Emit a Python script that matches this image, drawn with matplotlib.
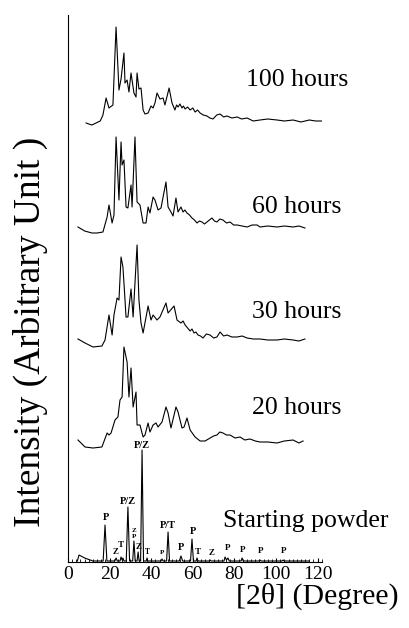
import matplotlib.pyplot as plt
from matplotlib.ticker import MultipleLocator

plt.rcParams['font.family'] = ['Liberation Serif', 'DejaVu Serif']

# XRD patterns (2theta in degrees, intensity in arbitrary stacked units)
tt_100h = [8.7, 10.0, 11.5, 13.5, 15.5, 16.8, 18.3, 19.7, 21.6, 23.1, 24.5, 25.5, 26.9, 27.4,
           28.4, 29.3, 30.3, 31.7, 32.7, 33.2, 34.1, 35.1, 36.1, 37.0, 38.5, 39.9, 40.9, 41.8,
           42.8, 44.2, 45.7, 46.6, 48.6, 50.0, 51.4, 52.2, 52.9, 53.8, 54.8, 55.5, 56.3, 57.5,
           58.7, 60.0, 61.1, 62.3, 63.5, 65.0, 66.8, 68.2, 69.7, 71.5, 73.1, 74.8, 76.4, 78.8,
           81.3, 83.5, 86.1, 89.0, 92.3, 96.0, 100.5, 104.0, 108.2, 112.0, 116.0, 119.0, 122.1]
int_100h = [439, 438, 437, 439, 441, 447, 464, 454, 457, 535, 472, 483, 509, 479,
            482, 470, 489, 469, 465, 489, 473, 474, 452, 448, 449, 456, 454, 459,
            469, 463, 464, 457, 474, 459, 452, 457, 455, 458, 454, 456, 453, 455,
            452, 454, 450, 452, 449, 447, 446, 444, 443, 447, 448, 445, 446, 444,
            445, 443, 444, 441, 442, 443, 442, 441, 442, 440, 442, 441, 441]

tt_60h = [4.8, 8.0, 11.5, 14.0, 16.8, 18.8, 19.7, 21.2, 22.1, 23.1, 24.5, 25.5, 26.0, 26.9,
          27.9, 28.8, 30.3, 30.8, 32.2, 33.2, 34.6, 36.1, 37.5, 38.5, 39.4, 40.9, 41.8, 43.3,
          44.7, 47.1, 48.1, 49.5, 50.5, 51.9, 52.9, 54.3, 55.3, 56.2, 57.2, 58.4, 59.6, 60.8,
          62.0, 63.2, 64.4, 65.6, 66.8, 68.0, 69.2, 70.4, 71.6, 73.0, 74.5, 76.2, 77.9, 79.6,
          81.3, 83.7, 86.1, 88.5, 90.9, 92.3, 96.0, 100.5, 104.0, 108.2, 111.0, 113.9]
int_60h = [335, 331, 329, 329, 330, 345, 357, 339, 347, 425, 362, 420, 397, 402,
           355, 354, 377, 355, 425, 360, 357, 339, 339, 355, 349, 365, 362, 352,
           354, 380, 355, 350, 346, 364, 350, 355, 350, 352, 349, 347, 344, 342,
           339, 341, 340, 338, 340, 342, 344, 341, 340, 343, 342, 339, 340, 337,
           337, 336, 335, 337, 337, 335, 336, 335, 336, 335, 336, 334]

tt_30h = [4.8, 8.2, 12.0, 16.3, 17.8, 19.7, 21.2, 22.1, 23.6, 24.5, 25.5, 26.4, 26.9, 27.9,
          28.8, 30.3, 31.3, 33.2, 34.1, 35.1, 36.1, 38.5, 39.9, 40.9, 42.8, 44.2, 47.1, 48.1,
          51.0, 52.4, 54.3, 55.3, 56.3, 57.5, 58.7, 59.6, 60.6, 61.5, 62.5, 63.7, 64.9, 66.5,
          68.3, 70.0, 71.6, 73.1, 74.8, 76.4, 78.8, 81.3, 83.7, 86.1, 89.0, 92.3, 96.0, 100.5,
          104.0, 108.2, 111.0, 113.9]
int_30h = [223, 219, 215, 216, 222, 247, 227, 247, 264, 262, 305, 295, 279, 245,
           245, 273, 245, 317, 262, 239, 229, 256, 242, 247, 242, 245, 259, 249,
           256, 242, 239, 241, 237, 234, 231, 233, 229, 230, 227, 226, 224, 228,
           227, 224, 225, 230, 226, 227, 225, 225, 226, 224, 223, 223, 222, 222,
           223, 222, 221, 223]

tt_20h = [4.8, 8.2, 12.0, 16.3, 18.8, 19.7, 20.7, 22.6, 24.0, 25.0, 26.0, 26.9, 28.4, 29.3,
          30.3, 31.3, 32.7, 33.2, 34.6, 36.1, 37.0, 38.5, 39.4, 40.9, 42.3, 43.3, 45.2, 47.1,
          48.1, 49.5, 51.9, 52.9, 54.8, 55.8, 57.2, 58.7, 61.1, 63.5, 65.9, 68.3, 70.0, 71.6,
          73.0, 74.5, 76.2, 77.9, 80.3, 82.7, 85.0, 87.5, 90.0, 92.3, 96.0, 100.5, 104.0,
          108.2, 111.0, 113.0]
int_20h = [122, 115, 114, 115, 129, 127, 129, 142, 145, 162, 165, 215, 200, 165,
           194, 155, 170, 137, 137, 125, 127, 139, 130, 137, 139, 135, 140, 155,
           149, 134, 155, 150, 134, 135, 144, 132, 125, 121, 121, 124, 126, 127,
           130, 129, 127, 127, 124, 125, 122, 123, 121, 120, 120, 119, 121,
           122, 119, 121]

tt_start = [4.5, 5.3, 8.0, 12.0, 16.9, 17.8, 18.7, 22.5, 23.1, 23.7, 25.0, 25.5, 26.0, 26.4,
            26.9, 28.0, 28.8, 29.6, 31.1, 31.7, 32.3, 33.2, 33.7, 34.2, 34.9, 35.6, 36.3,
            37.6, 38.0, 38.4, 44.7, 45.2, 45.7, 47.4, 48.1, 48.8, 53.5, 54.3, 55.1, 58.9,
            59.6, 60.3, 61.6, 62.0, 62.5, 67.8, 68.3, 68.8, 75.0, 75.5, 76.2, 76.9, 77.5,
            83.2, 83.7, 84.2, 91.8, 92.3, 92.8, 102.9, 103.4, 103.9, 116.0]
int_start = [1, 7, 4, 1, 1, 37, 1, 1, 4, 1, 1, 5, 2, 4,
             1, 1, 55, 1, 1, 21, 1, 1, 10, 1, 1, 112, 1,
             1, 4, 1, 1, 3, 1, 1, 30, 1, 1, 6, 1, 1,
             23, 1, 1, 4, 1, 1, 2, 1, 1, 5, 2, 4, 1,
             1, 4, 1, 1, 2, 1, 1, 2, 1, 1]

# phase labels of the starting powder peaks
phase_labels = ['P', 'P/Z', 'P/Z', 'Z', 'P', 'Z', 'Z', 'T', 'T', 'P', 'P/T', 'P', 'P',
                'T', 'Z', 'P', 'P', 'P', 'P']
phase_x = [18.3, 28.8, 35.6, 31.7, 31.7, 33.7, 23.1, 25.5, 38.0, 45.2, 48.1, 54.3, 60.1,
           62.5, 68.8, 76.9, 84.1, 92.8, 103.8]
phase_y = [45, 61, 116, 31, 25, 15, 10, 17, 10, 10, 36, 15, 30,
           10, 9, 14, 12, 11, 11]
phase_size = [7.5, 7.5, 7.5, 5, 5, 6.5, 6.5, 6.5, 5.5, 5, 7.5, 7.5, 7.5,
              6.5, 6.5, 6.5, 6.5, 6.5, 6.5]

series_names = ['100 hours', '60 hours', '30 hours', '20 hours', 'Starting powder']
series_tt = [tt_100h, tt_60h, tt_30h, tt_20h, tt_start]
series_int = [int_100h, int_60h, int_30h, int_20h, int_start]
name_pos = [(85.6, 482), (88.5, 355), (88.5, 250), (88.5, 154), (74.5, 41)]

fig = plt.figure(figsize=(4.1, 6.28), dpi=100)
ax = fig.add_axes([68/410, 66/628, 254/410, 547/628])

for tt, inten, name, pos in zip(series_tt, series_int, series_names, name_pos):
    ax.plot(tt, inten, color='black', lw=0.8)
    ax.text(pos[0], pos[1], name, fontsize=18.5, ha='left', va='center')

for lab, x, y, s in zip(phase_labels, phase_x, phase_y, phase_size):
    ax.text(x, y, lab, fontsize=s, fontweight='bold', ha='center', va='center')

ax.set_xlim(0, 122.1)
ax.set_ylim(0, 547)
ax.spines['top'].set_visible(False)
ax.spines['right'].set_visible(False)
ax.set_yticks([])
ax.xaxis.set_major_locator(MultipleLocator(20))
ax.xaxis.set_minor_locator(MultipleLocator(2))
ax.tick_params(axis='x', which='major', direction='in', length=3, labelsize=14, pad=3)
ax.tick_params(axis='x', which='minor', direction='in', length=2)

fig.text(30/410, 1 - 332/628, 'Intensity (Arbitrary Unit )', rotation=90,
         fontsize=27, ha='center', va='center')
fig.text(317/410, 1 - 596/628, '[2\u03b8] (Degree)', fontsize=21.5, ha='center', va='center')

fig.savefig('out.png', dpi=100)
